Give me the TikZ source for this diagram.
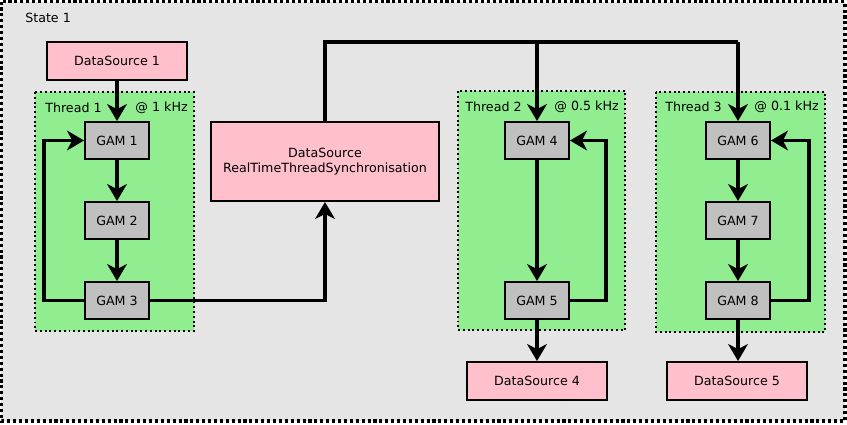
\documentclass[tikz,border=0pt]{standalone}
\usepackage{fontspec}
\setmainfont{DejaVu Sans}
\usetikzlibrary{arrows.meta}
\definecolor{statebg}{HTML}{E5E5E5}
\definecolor{dspink}{HTML}{FFC0CB}
\definecolor{thrgreen}{HTML}{90EE90}
\definecolor{gamgray}{HTML}{C0C0C0}
\begin{document}
\begin{tikzpicture}[x=0.025cm,y=-0.025cm,font=\fontsize{9pt}{10.5pt}\selectfont,
  ds/.style={draw,line width=1.4pt,fill=dspink,minimum width=3.5cm,minimum height=0.95cm,inner sep=0pt},
  gam/.style={draw,line width=1.4pt,fill=gamgray,minimum width=1.6cm,minimum height=0.925cm,inner sep=0pt},
  thr/.style={draw,dotted,line width=1.4pt,fill=thrgreen},
  lbl/.style={inner sep=0pt},
  flow/.style={line width=2.8pt,-{Stealth[length=12pt,width=14pt,inset=3.5pt]}},
  wire/.style={line width=2.8pt}]
\useasboundingbox(0,0)rectangle(847,424);
\draw[fill=statebg,dotted,line width=2.2pt](1.5,1.5)rectangle(845,421);
\node[lbl,anchor=west](st1)at(25,18){State 1};
% threads
\draw[thr](35,92)rectangle(194,331);
\draw[thr](458,91)rectangle(625,330);
\draw[thr](656,92)rectangle(825,332);
\node[lbl,anchor=west](t1)at(45,108){Thread 1};
\node[lbl,anchor=east](f1)at(188,108){@ 1 kHz};
\node[lbl,anchor=west](t2)at(465,107){Thread 2};
\node[lbl,anchor=east](f2)at(619,107){@ 0.5 kHz};
\node[lbl,anchor=west](t3)at(665,107){Thread 3};
\node[lbl,anchor=east](f3)at(819,107){@ 0.1 kHz};
% data sources
\node[ds](ds1)at(117,61){DataSource 1};
\node[ds,minimum width=5.7cm,minimum height=1.975cm,align=center](rtts)at(325,161.5){DataSource\\RealTimeThreadSynchronisation};
\node[ds](ds4)at(537,381){DataSource 4};
\node[ds](ds5)at(737,381){DataSource 5};
% gams
\node[gam](g1)at(117,140.5){GAM 1};
\node[gam](g2)at(117,220.5){GAM 2};
\node[gam](g3)at(117,300.5){GAM 3};
\node[gam](g4)at(537,140.5){GAM 4};
\node[gam](g5)at(537,300.5){GAM 5};
\node[gam](g6)at(738,140.5){GAM 6};
\node[gam](g7)at(738,220.5){GAM 7};
\node[gam](g8)at(738,300.5){GAM 8};
\coordinate(bus)at(0,42);
% thread 1
\draw[flow](ds1)--(g1);
\draw[flow](g1)--(g2);
\draw[flow](g2)--(g3);
\draw[flow](g3.west)--++(-40,0)|-(g1.west);
\draw[flow](g3.east)-|(rtts.south);
% synchronisation
\draw[wire](rtts.north)--(rtts.north|-bus)--(g6.north|-bus);
\draw[flow](g4.north|-bus)--(g4.north);
\draw[flow](g6.north|-bus)--(g6.north);
% thread 2
\draw[flow](g4)--(g5);
\draw[flow](g5.east)--++(36,0)|-(g4.east);
\draw[flow](g5)--(ds4);
% thread 3
\draw[flow](g6)--(g7);
\draw[flow](g7)--(g8);
\draw[flow](g8.east)--++(38,0)|-(g6.east);
\draw[flow](g8)--(g8|-ds5.north);
\end{tikzpicture}
\end{document}
